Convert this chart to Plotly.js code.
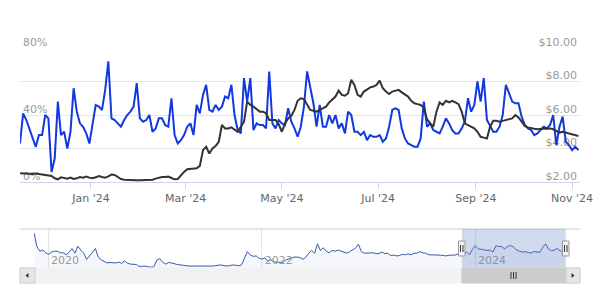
<!DOCTYPE html>
<html>
<head>
<meta charset="utf-8">
<script src="https://cdn.plot.ly/plotly-3.0.1.min.js"></script>
<style>html,body{margin:0;padding:0;background:#fff}#chart{width:600px;height:300px}</style>
</head>
<body>
<div id="chart"></div>
<script>
// Main chart: one value every 2 days starting 2023-11-17
const mainStart = '2023-11-17';
const mainStepDays = 2;
const ratioPct = [23,41,37,32,26,21,28,28,40,38,6,14,48,28,30,20,30,56,42,35,
  33,29,23,36,46,45,43,55,72,38,37,35,33,37,40,42,45,59,38,36,
  37,40,30,32,38,38,34,33,50,28,23,25,28,33,35,28,46,41,52,58,
  43,42,46,43,45,51,50,58,40,31,29,62,48,62,31,35,34,34,32,66,
  35,32,37,35,34,44,36,32,27,33,45,66,57,47,33,46,33,33,40,35,
  40,32,35,29,42,40,30,30,28,30,25,28,27,27,28,24,26,33,43,44,
  43,32,26,23,22,21,21,26,48,33,35,31,30,29,33,38,35,31,29,29,
  32,36,50,42,46,60,48,62,37,33,30,30,33,40,58,53,48,47,47,39,
  34,32,31,28,29,31,33,32,34,40,22,33,39,24,22,19,21,19];
const priceUsd = [2.52,2.50,2.50,2.50,2.48,2.50,2.47,2.46,2.43,2.40,2.36,2.22,2.16,2.28,2.24,2.20,2.26,2.18,2.22,2.30,
  2.26,2.32,2.26,2.22,2.28,2.36,2.30,2.26,2.34,2.44,2.42,2.28,2.18,2.14,2.12,2.12,2.10,2.10,2.10,2.11,
  2.12,2.12,2.14,2.20,2.26,2.30,2.30,2.32,2.24,2.16,2.18,2.40,2.60,2.76,2.78,2.80,2.82,2.96,3.90,4.10,
  3.70,4.00,4.15,4.40,5.40,5.20,5.20,5.26,5.15,5.00,5.30,5.60,6.80,6.60,6.50,6.35,6.20,6.20,6.10,5.70,
  5.70,5.70,5.45,5.00,5.50,5.80,5.95,6.30,6.85,7.00,6.95,6.60,6.30,6.25,6.20,6.30,6.40,6.50,6.75,6.95,
  7.10,7.45,7.20,7.15,7.30,8.10,7.80,7.20,7.10,7.40,7.55,7.65,7.70,7.80,8.05,7.60,7.40,7.25,7.40,7.45,
  7.50,7.35,7.25,7.10,6.85,6.70,6.65,6.60,6.45,5.75,5.50,5.30,6.20,6.75,6.60,6.85,6.75,6.85,6.75,6.65,
  6.20,5.50,5.40,5.30,5.20,5.00,4.70,4.65,4.60,5.30,5.65,5.65,5.60,5.65,5.70,5.75,5.80,6.00,5.85,5.60,
  5.35,5.26,5.20,5.18,5.15,5.18,5.20,5.18,5.20,5.15,5.05,4.95,5.00,4.95,4.90,4.85,4.80,4.75];

// Navigator: full history, one value every 10 days from 2019-11-14
const navStart = '2019-11-14';
const navStepDays = 10;
const navValues = [90,55,43,46,39,35,41,43,43,39,39,34,40,50,38,56,46,38,22,30,
  40,50,28,21,17,13,14,14,13,15,12,18,12,10,10,9,4,4,5,3,
  2,3,20,24,15,10,14,13,10,9,8,7,5,5,5,5,4,4,5,5,
  5,5,6,7,8,6,5,6,8,7,6,8,25,42,33,30,31,25,23,26,
  17,21,16,15,14,14,20,23,26,28,28,27,22,28,38,45,38,62,45,52,
  43,39,45,43,46,43,39,38,42,47,51,61,42,38,38,38,39,37,37,41,
  37,38,32,33,31,32,35,34,36,34,38,38,42,39,38,34,34,34,33,33,
  32,31,33,33,33,36,36,33,41,34,48,57,49,48,46,45,46,41,57,55,
  55,49,55,58,54,47,43,41,42,40,38,42,41,40,52,62,49,44,46,50,
  44,43,42];

const mainTickVals = ['2024-01-01','2024-03-01','2024-05-01','2024-07-01','2024-09-01','2024-11-01'];
const mainTickText = ["Jan '24","Mar '24","May '24","Jul '24","Sep '24","Nov '24"];
const pctTickVals = [0,40,80];
const pctTickText = ['0%','40%','80%'];
const usdTickVals = [2,4,6,8,10];
const usdTickText = ['$2.00','$4.00','$6.00','$8.00','$10.00'];
const navTickVals = ['2020-01-01','2022-01-01','2024-01-01'];
const navTickText = ['2020','2022','2024'];
const viewRange = ['2023-11-17','2024-11-06'];
const navRange = ['2019-11-14','2024-11-07'];

function dateSeries(start, stepDays, n) {
  const t0 = Date.parse(start + 'T00:00:00Z');
  const out = [];
  for (let i = 0; i < n; i++) out.push(new Date(t0 + i * stepDays * 86400000).toISOString().slice(0, 10));
  return out;
}
const mainDates = dateSeries(mainStart, mainStepDays, ratioPct.length);
const navDates = dateSeries(navStart, navStepDays, navValues.length);

const FONT = 'DejaVu Sans, Lucida Grande, Arial, sans-serif';

const traces = [
  {x: mainDates, y: ratioPct, type: 'scatter', mode: 'lines', xaxis: 'x', yaxis: 'y',
   line: {color: '#1238e0', width: 2}, hoverinfo: 'skip'},
  {x: mainDates, y: priceUsd, type: 'scatter', mode: 'lines', xaxis: 'x', yaxis: 'y2',
   line: {color: '#333333', width: 2}, hoverinfo: 'skip'},
  {x: navDates, y: navValues, type: 'scatter', mode: 'lines', xaxis: 'x2', yaxis: 'y3',
   line: {color: '#335cad', width: 1}, fill: 'tozeroy', fillcolor: 'rgba(51,92,173,0.05)', hoverinfo: 'skip'}
];

// pixel helpers for decoration shapes (paper coords)
const PL = 20, PW = 560, PB = 283, PH = 235;
const px = v => (v - PL) / PW;
const py = v => (PB - v) / PH;

const layout = {
  width: 600, height: 300,
  margin: {l: 20, r: 20, t: 48, b: 17, pad: 0},
  paper_bgcolor: '#ffffff', plot_bgcolor: 'rgba(0,0,0,0)',
  showlegend: false,
  font: {family: FONT, size: 11, color: '#666'},
  xaxis: {type: 'date', range: viewRange.slice(), domain: [0, 1], anchor: 'y',
    showgrid: false, zeroline: false, showline: true, linecolor: '#ccd6eb', linewidth: 1,
    ticks: 'outside', ticklen: 6, tickcolor: '#ccd6eb', tickwidth: 1,
    tickvals: mainTickVals, ticktext: mainTickText, ticklabeloverflow: 'allow',
    tickfont: {family: FONT, size: 11, color: '#666'}, fixedrange: true},
  yaxis: {domain: [py(182), 1], range: [0, 80], side: 'left',
    tickvals: pctTickVals, ticktext: pctTickText, ticklabelposition: 'inside', ticklabelshift: -6,
    ticklabeloverflow: 'allow',
    showgrid: false, zeroline: false, showline: false, ticks: '', layer: 'below traces',
    tickfont: {family: FONT, size: 11, color: '#999'}, fixedrange: true},
  yaxis2: {overlaying: 'y', side: 'right', range: [2, 10], anchor: 'x',
    tickvals: usdTickVals, ticktext: usdTickText, ticklabelposition: 'inside', ticklabelshift: -6,
    ticklabeloverflow: 'allow',
    showgrid: true, gridcolor: '#e6e6e6', gridwidth: 1, zeroline: false, showline: false, ticks: '',
    layer: 'below traces',
    tickfont: {family: FONT, size: 11, color: '#999'}, fixedrange: true},
  xaxis2: {type: 'date', range: navRange.slice(), domain: [px(34), px(566)], anchor: 'y3',
    tickvals: navTickVals, ticktext: navTickText, ticklabelposition: 'inside right',
    ticklabelstandoff: -4, ticklabelshift: 3, ticklabeloverflow: 'allow',
    showgrid: true, gridcolor: '#e6e6e6', zeroline: false, showline: false, ticks: '',
    tickfont: {family: FONT, size: 11, color: '#999'}, fixedrange: true},
  yaxis3: {domain: [py(268), py(229)], range: [0, 100], anchor: 'x2', visible: false, fixedrange: true},
  shapes: [
    {type: 'line', xref: 'paper', yref: 'paper', x0: 0, x1: 1, y0: py(229), y1: py(229),
     line: {color: '#cccccc', width: 1}},
    {type: 'rect', xref: 'x2', yref: 'paper', x0: viewRange[0], x1: viewRange[1], y0: py(268), y1: py(229),
     fillcolor: 'rgba(102,133,194,0.3)', line: {width: 0}, layer: 'above'},
    {type: 'rect', xref: 'paper', yref: 'paper', x0: 0, x1: 1, y0: 0, y1: py(268),
     fillcolor: '#f2f2f2', line: {color: '#f2f2f2', width: 1}},
    {type: 'rect', xref: 'x2', yref: 'paper', x0: viewRange[0], x1: viewRange[1], y0: 0, y1: py(268),
     fillcolor: '#cccccc', line: {color: '#cccccc', width: 1}},
    {type: 'rect', xref: 'paper', yref: 'paper', x0: 0, x1: px(35), y0: 0, y1: py(268),
     fillcolor: '#e6e6e6', line: {color: '#cccccc', width: 1}},
    {type: 'rect', xref: 'paper', yref: 'paper', x0: px(566), x1: 1, y0: 0, y1: py(268),
     fillcolor: '#e6e6e6', line: {color: '#cccccc', width: 1}},
    {type: 'path', xref: 'paper', yref: 'paper',
     path: `M ${px(25.5)} ${py(275.5)} L ${px(28.5)} ${py(273)} L ${px(28.5)} ${py(278)} Z`,
     fillcolor: '#333', line: {width: 0}},
    {type: 'path', xref: 'paper', yref: 'paper',
     path: `M ${px(574.5)} ${py(275.5)} L ${px(571.5)} ${py(273)} L ${px(571.5)} ${py(278)} Z`,
     fillcolor: '#333', line: {width: 0}},
    {type: 'line', xref: 'paper', yref: 'paper', x0: px(511), x1: px(511), y0: py(272), y1: py(279), line: {color: '#333', width: 1}},
    {type: 'line', xref: 'paper', yref: 'paper', x0: px(513.5), x1: px(513.5), y0: py(272), y1: py(279), line: {color: '#333', width: 1}},
    {type: 'line', xref: 'paper', yref: 'paper', x0: px(516), x1: px(516), y0: py(272), y1: py(279), line: {color: '#333', width: 1}},
    {type: 'rect', xref: 'paper', yref: 'paper', x0: px(458.5), x1: px(465), y0: py(256), y1: py(241),
     fillcolor: '#f2f2f2', line: {color: '#999999', width: 1}, layer: 'above'},
    {type: 'line', xref: 'paper', yref: 'paper', x0: px(460.5), x1: px(460.5), y0: py(245), y1: py(252), line: {color: '#333', width: 1}},
    {type: 'line', xref: 'paper', yref: 'paper', x0: px(463), x1: px(463), y0: py(245), y1: py(252), line: {color: '#333', width: 1}},
    {type: 'rect', xref: 'paper', yref: 'paper', x0: px(562.5), x1: px(569), y0: py(256), y1: py(241),
     fillcolor: '#f2f2f2', line: {color: '#999999', width: 1}, layer: 'above'},
    {type: 'line', xref: 'paper', yref: 'paper', x0: px(564.5), x1: px(564.5), y0: py(245), y1: py(252), line: {color: '#333', width: 1}},
    {type: 'line', xref: 'paper', yref: 'paper', x0: px(567), x1: px(567), y0: py(245), y1: py(252), line: {color: '#333', width: 1}}
  ]
};

Plotly.newPlot('chart', traces, layout, {displayModeBar: false, staticPlot: true});
</script>
</body>
</html>
